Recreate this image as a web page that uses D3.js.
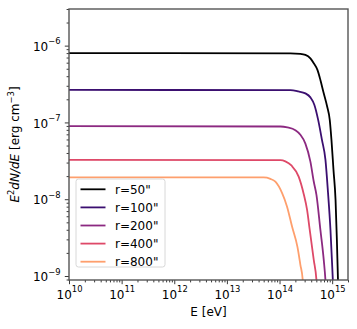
<!DOCTYPE html>
<html>
<head>
<meta charset="utf-8">
<script src="https://cdn.jsdelivr.net/npm/d3@7"></script>
<style>
  body { margin: 0; background: #fff; }
  svg text { font-family: "DejaVu Sans", sans-serif; fill: #000; }
</style>
</head>
<body>
<div id="chart"></div>
<script>
// energies in eV, E^2 dN/dE in erg cm^-3
var labels = ['r=50"', 'r=100"', 'r=200"', 'r=400"', 'r=800"'];

var specR50 = [
  [1e10, 8.0e-7], [1.61e14, 7.91e-7], [2.49e14, 7.80e-7], [3.10e14, 7.57e-7],
  [3.86e14, 6.81e-7], [4.47e14, 5.90e-7], [5.25e14, 4.83e-7], [5.98e14, 3.57e-7],
  [6.82e14, 2.49e-7], [8.03e14, 1.61e-7], [9.0e14, 1.08e-7], [9.70e14, 5.92e-8],
  [1.06e15, 2.41e-8], [1.16e15, 9.8e-9], [1.23e15, 2.95e-9], [1.29e15, 8.9e-10],
  [1.33e15, 5e-10]
];
var specR100 = [
  [1e10, 2.65e-7], [1.61e14, 2.63e-7], [2.28e14, 2.53e-7], [3.10e14, 2.39e-7],
  [3.86e14, 2.12e-7], [4.60e14, 1.69e-7], [5.42e14, 1.08e-7], [6.40e14, 5.92e-8],
  [7.46e14, 3.25e-8], [8.32e14, 1.25e-8], [9.29e14, 3.98e-9], [1.03e15, 8.9e-10],
  [1.07e15, 5e-10]
];
var specR200 = [
  [1e10, 8.93e-8], [1.04e14, 8.85e-8], [1.41e14, 8.6e-8], [2.00e14, 7.9e-8],
  [2.49e14, 6.9e-8], [3.10e14, 5.3e-8], [3.86e14, 3.09e-8], [4.47e14, 1.70e-8],
  [5.03e14, 1.14e-8], [5.98e14, 3.98e-9], [6.92e14, 1.62e-9], [7.45e14, 8.9e-10],
  [7.8e14, 5e-10]
];
var specR400 = [
  [1e10, 3.25e-8], [1.04e14, 3.22e-8], [1.29e14, 3.11e-8], [1.68e14, 2.75e-8],
  [2.31e14, 1.97e-8], [2.88e14, 1.17e-8], [3.34e14, 7.26e-9], [3.75e14, 3.98e-9],
  [4.47e14, 1.62e-9], [5.03e14, 8.9e-10], [5.3e14, 5e-10]
];
var specR800 = [
  [1e10, 1.93e-8], [4.99e13, 1.92e-8], [6.70e13, 1.84e-8], [8.34e13, 1.69e-8],
  [1.12e14, 1.20e-8], [1.39e14, 8.0e-9], [1.73e14, 4.40e-9], [2.19e14, 2.39e-9],
  [2.49e14, 1.40e-9], [2.76e14, 8.9e-10], [2.9e14, 5e-10]
];
var allSpectra = [specR50, specR100, specR200, specR400, specR800];

var energyTicks = [1e10, 1e11, 1e12, 1e13, 1e14, 1e15];
var fluxTicks = [1e-9, 1e-8, 1e-7, 1e-6];

var WIDTH = 357, HEIGHT = 329;
var margin = {top: 9, right: 9, bottom: 49, left: 69};
var plotW = WIDTH - margin.left - margin.right;
var plotH = HEIGHT - margin.top - margin.bottom;
var FONT_SIZE = 12;
var SUP_SIZE = 8.4;

var x = d3.scaleLog().domain([1e10, 2.0e15]).range([0, plotW]);
var y = d3.scaleLog().domain([0.887e-9, 3.0e-6]).range([plotH, 0]);

var svg = d3.select('#chart').append('svg')
  .attr('width', WIDTH)
  .attr('height', HEIGHT);

var g = svg.append('g')
  .attr('transform', `translate(${margin.left},${margin.top})`);

svg.append('defs').append('clipPath').attr('id', 'plot-clip')
  .append('rect').attr('width', plotW).attr('height', plotH);

// minor ticks 2..9 per decade
function minorTicks(domain) {
  var lo = Math.floor(Math.log10(domain[0])), hi = Math.ceil(Math.log10(domain[1]));
  var out = [];
  for (var p = lo; p < hi; p++) {
    for (var m = 2; m < 10; m++) {
      var v = m * Math.pow(10, p);
      if (v >= domain[0] && v <= domain[1]) out.push(v);
    }
  }
  return out;
}

function superscript(sel) {
  sel.each(function (d) {
    var t = d3.select(this);
    var e = Math.round(Math.log10(d));
    t.text(null);
    t.append('tspan').text('10');
    t.append('tspan')
      .attr('dy', -6.3)
      .style('font-size', SUP_SIZE + 'px')
      .text(String(e).replace('-', '\u2212'));
  });
}

// x axis
g.append('g').attr('transform', `translate(0,${plotH})`)
  .call(d3.axisBottom(x).tickValues(minorTicks(x.domain())).tickSize(2.4).tickFormat(''));
var xMajor = g.append('g').attr('transform', `translate(0,${plotH})`)
  .call(d3.axisBottom(x).tickValues(energyTicks).tickSize(4.2).tickPadding(4.2));
xMajor.selectAll('text')
  .style('font-size', FONT_SIZE + 'px')
  .attr('y', 18.8)
  .attr('dy', 0)
  .call(superscript);

// y axis
g.append('g')
  .call(d3.axisLeft(y).tickValues(minorTicks(y.domain())).tickSize(2.4).tickFormat(''));
var yMajor = g.append('g')
  .call(d3.axisLeft(y).tickValues(fluxTicks).tickSize(4.2).tickPadding(4.2));
yMajor.selectAll('text')
  .style('font-size', FONT_SIZE + 'px')
  .attr('dy', 4.6)
  .call(superscript);

g.selectAll('.domain').remove();
g.selectAll('.tick line').attr('stroke', '#222').attr('stroke-width', 0.9);

// curves
var line = d3.line()
  .x((d) => x(d[0]))
  .y((d) => y(d[1]))
  .curve(d3.curveMonotoneX);

var colors = labels.map((_, i) => i === 0 ? '#000000' : d3.interpolateMagma(i / 5));

g.append('g').attr('clip-path', 'url(#plot-clip)')
  .selectAll('path')
  .data(allSpectra)
  .enter()
  .append('path')
  .attr('d', line)
  .attr('fill', 'none')
  .attr('stroke', (d, i) => colors[i])
  .attr('stroke-width', 1.8);

// frame
g.append('rect')
  .attr('width', plotW)
  .attr('height', plotH)
  .attr('fill', 'none')
  .attr('stroke', '#555')
  .attr('stroke-width', 1.4);

// legend
var legend = g.append('g').attr('transform', 'translate(7,170)');
legend.append('rect')
  .attr('width', 89)
  .attr('height', 88)
  .attr('rx', 2.5)
  .attr('fill', '#fff')
  .attr('fill-opacity', 0.8)
  .attr('stroke', '#d8d8d8')
  .attr('stroke-width', 1);
var rows = legend.selectAll('.row')
  .data(labels)
  .enter()
  .append('g')
  .attr('transform', (d, i) => `translate(0,${10.3 + i * 18.1})`);
rows.append('line')
  .attr('x1', 4.5).attr('x2', 29.5)
  .attr('stroke', (d, i) => colors[i])
  .attr('stroke-width', 1.8);
rows.append('text')
  .attr('x', 39)
  .attr('dy', '0.36em')
  .style('font-size', FONT_SIZE + 'px')
  .text((d) => d);

// axis labels
svg.append('text')
  .attr('x', margin.left + plotW / 2)
  .attr('y', 316)
  .attr('text-anchor', 'middle')
  .style('font-size', FONT_SIZE + 'px')
  .text('E [eV]');

var yl = svg.append('text')
  .attr('transform', `translate(19,${margin.top + plotH / 2})rotate(-90)`)
  .attr('text-anchor', 'middle')
  .style('font-size', FONT_SIZE + 'px');
yl.append('tspan').style('font-style', 'italic').text('E');
yl.append('tspan').attr('dy', -5.5).style('font-size', SUP_SIZE + 'px').text('2');
yl.append('tspan').attr('dy', 5.5).style('font-style', 'italic').text('dN');
yl.append('tspan').style('font-style', 'italic').text('/');
yl.append('tspan').style('font-style', 'italic').text('dE');
yl.append('tspan').text(' [erg cm');
yl.append('tspan').attr('dy', -5.5).style('font-size', SUP_SIZE + 'px').text('\u22123');
yl.append('tspan').attr('dy', 5.5).text(']');
</script>
</body>
</html>
